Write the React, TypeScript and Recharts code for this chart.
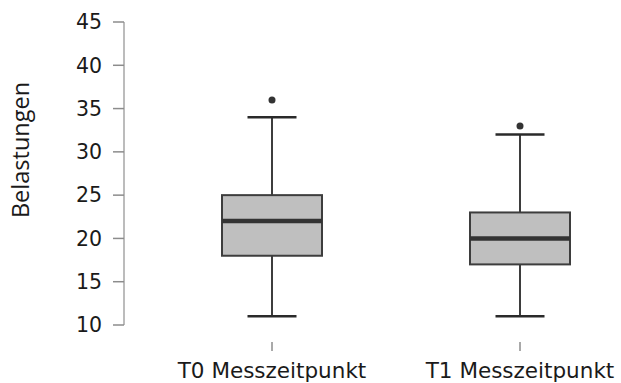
import React from "react"
import { ComposedChart, Bar, Scatter, XAxis, YAxis, Label } from "recharts"

const categories = ["T0 Messzeitpunkt", "T1 Messzeitpunkt"]
const minValues = [11, 11]
const q1Values = [18, 17]
const medianValues = [22, 20]
const q3Values = [25, 23]
const maxValues = [34, 32]
const outlierValues = [36, 33]
const yTicks = [10, 15, 20, 25, 30, 35, 40, 45]

// stacked segments so every edge comes from the library's y scale
const data = categories.map((name, i) => ({
  name,
  base: minValues[i],
  lowWhisker: q1Values[i] - minValues[i],
  boxLow: medianValues[i] - q1Values[i],
  boxHigh: q3Values[i] - medianValues[i],
  highWhisker: maxValues[i] - q3Values[i],
  outlier: outlierValues[i],
}))

const LINE = "#3d3d3d"
const BOX_FILL = "#bfbfbf"
const CAP = 49

const Empty = () => null

const LowWhisker = (props: any) => {
  const { x, y, width, height } = props
  const cx = x + width / 2
  const bottom = y + height
  return (
    <g>
      <line x1={cx} x2={cx} y1={y} y2={bottom} stroke={LINE} strokeWidth={2} />
      <line x1={cx - CAP / 2} x2={cx + CAP / 2} y1={bottom} y2={bottom} stroke="#2a2a2a" strokeWidth={2.5} />
    </g>
  )
}

const HighWhisker = (props: any) => {
  const { x, y, width, height } = props
  const cx = x + width / 2
  return (
    <g>
      <line x1={cx} x2={cx} y1={y} y2={y + height} stroke={LINE} strokeWidth={2} />
      <line x1={cx - CAP / 2} x2={cx + CAP / 2} y1={y} y2={y} stroke="#2a2a2a" strokeWidth={2.5} />
    </g>
  )
}

const BoxLow = (props: any) => {
  const { x, y, width, height } = props
  return <rect x={x} y={y} width={width} height={height} fill={BOX_FILL} stroke={LINE} strokeWidth={2} />
}

const BoxHigh = (props: any) => {
  const { x, y, width, height } = props
  const bottom = y + height
  return (
    <g>
      <rect x={x} y={y} width={width} height={height} fill={BOX_FILL} stroke={LINE} strokeWidth={2} />
      <line x1={x} x2={x + width} y1={bottom} y2={bottom} stroke="#333" strokeWidth={4.5} />
    </g>
  )
}

const Dot = (props: any) => <circle cx={props.cx} cy={props.cy} r={3.5} fill="#333" />

const XTick = (props: any) => {
  const { x, y, payload } = props
  return (
    <g>
      <line x1={x} x2={x} y1={y + 17} y2={y + 26} stroke="#555" strokeWidth={1} />
      <text
        x={x}
        y={y + 53}
        textAnchor="middle"
        fill="#1a1a1a"
        style={{ fontFamily: "DejaVu Sans", fontSize: 21.5 }}
      >
        {payload.value}
      </text>
    </g>
  )
}

const YTitle = () => (
  <text
    x={29}
    y={150}
    transform="rotate(-90 29 150)"
    textAnchor="middle"
    fill="#1a1a1a"
    style={{ fontFamily: "Open Sans", fontSize: 23.5 }}
  >
    Belastungen
  </text>
)

export default function App() {
  return (
    <div style={{ position: "absolute", left: 0, top: 0, width: 621, height: 383, overflow: "hidden", background: "#fff" }}>
      <ComposedChart
        width={660}
        height={383}
        data={data}
        margin={{ top: 22, right: 16, bottom: 0, left: 0 }}
      >
        <XAxis
          dataKey="name"
          type="category"
          height={58}
          axisLine={false}
          tickLine={false}
          tickSize={0}
          tickMargin={0}
          padding={{ left: 24, right: 0 }}
          tick={<XTick />}
          interval={0}
        />
        <YAxis
          width={124}
          domain={[10, 45]}
          ticks={yTicks}
          allowDataOverflow
          axisLine={{ stroke: "#a6a6a6", strokeWidth: 1.5 }}
          tickLine={{ stroke: "#8c8c8c", strokeWidth: 1.5 }}
          tickSize={11}
          tickMargin={11}
          tick={{ fill: "#1a1a1a", fontSize: 20.5, fontFamily: "DejaVu Sans" }}
        >
          <Label content={<YTitle />} />
        </YAxis>
        <Bar dataKey="base" stackId="box" barSize={100} shape={<Empty />} isAnimationActive={false} />
        <Bar dataKey="lowWhisker" stackId="box" barSize={100} shape={<LowWhisker />} isAnimationActive={false} />
        <Bar dataKey="boxLow" stackId="box" barSize={100} shape={<BoxLow />} isAnimationActive={false} />
        <Bar dataKey="boxHigh" stackId="box" barSize={100} shape={<BoxHigh />} isAnimationActive={false} />
        <Bar dataKey="highWhisker" stackId="box" barSize={100} shape={<HighWhisker />} isAnimationActive={false} />
        <Scatter dataKey="outlier" shape={<Dot />} isAnimationActive={false} />
      </ComposedChart>
    </div>
  )
}
